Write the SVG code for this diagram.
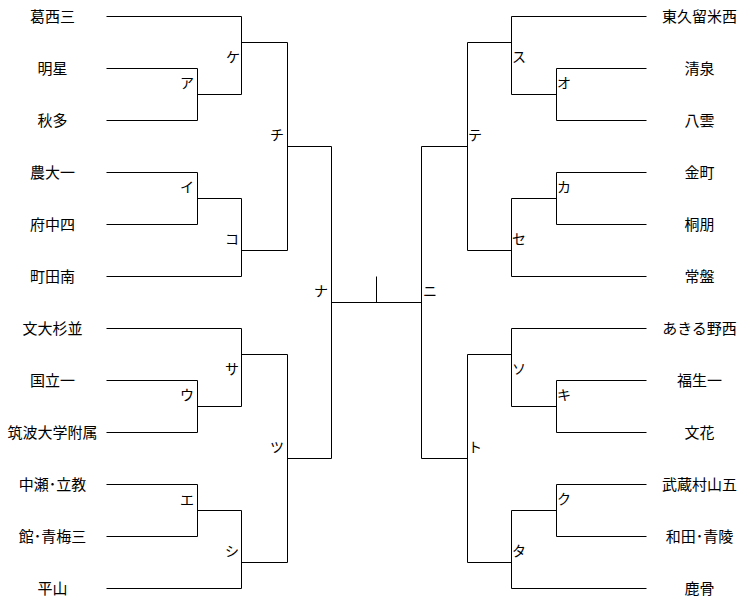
<svg xmlns="http://www.w3.org/2000/svg" width="750" height="604" viewBox="0 0 750 604">
<style>
.t{font-family:"Noto Sans CJK JP","Noto Sans CJK SC",sans-serif;font-size:15px;fill:#000;text-anchor:middle}
.l{font-family:"Noto Sans CJK JP","Noto Sans CJK SC",sans-serif;font-size:14px;fill:#000}
.le{text-anchor:end}
.ls{text-anchor:start}
.c path{fill:none;stroke:#000;stroke-width:1}
</style>
<rect width="750" height="604" fill="#fff"/>
<g class="c" id="connectors" transform="translate(0.5,0.5)">
<path d="M106,16H241M106,68H197M106,120H197M106,172H197M106,224H197M106,276H241M106,328H241M106,380H197M106,432H197M106,484H197M106,536H197M106,588H241"/>
<path d="M511,16H646M556,68H646M556,120H646M556,172H646M556,224H646M511,276H646M511,328H646M556,380H646M556,432H646M556,484H646M556,536H646M511,588H646"/>
<path d="M197,68V120M197,94H241M241,16V94M241,42H287M197,172V224M197,198H241M241,198V276M241,250H287M287,42V250M287,146H331"/>
<path d="M197,380V432M197,406H241M241,328V406M241,354H287M197,484V536M197,510H241M241,510V588M241,562H287M287,354V562M287,458H331"/>
<path d="M331,146V458M331,302H421M376,276V302M421,146V458"/>
<path d="M467,42V250M467,146H421M511,16V94M511,42H467M556,68V120M556,94H511M556,172V224M556,198H511M511,198V276M511,250H467"/>
<path d="M467,354V562M467,458H421M511,328V406M511,354H467M556,380V432M556,406H511M556,484V536M556,510H511M511,510V588M511,562H467"/>
</g>
<g id="team-l1"><text class="t" x="52.5" y="22">葛西三</text></g>
<g id="team-l2"><text class="t" x="52.5" y="74">明星</text></g>
<g id="team-l3"><text class="t" x="52.5" y="126">秋多</text></g>
<g id="team-l4"><text class="t" x="52.5" y="178">農大一</text></g>
<g id="team-l5"><text class="t" x="52.5" y="230">府中四</text></g>
<g id="team-l6"><text class="t" x="52.5" y="282">町田南</text></g>
<g id="team-l7"><text class="t" x="52.5" y="334">文大杉並</text></g>
<g id="team-l8"><text class="t" x="52.5" y="386">国立一</text></g>
<g id="team-l9"><text class="t" x="52.5" y="438">筑波大学附属</text></g>
<g id="team-l10"><text class="t" x="52.5" y="490">中瀬･立教</text></g>
<g id="team-l11"><text class="t" x="52.5" y="542">館･青梅三</text></g>
<g id="team-l12"><text class="t" x="52.5" y="594">平山</text></g>
<g id="team-r1"><text class="t" x="699.5" y="22">東久留米西</text></g>
<g id="team-r2"><text class="t" x="699.5" y="74">清泉</text></g>
<g id="team-r3"><text class="t" x="699.5" y="126">八雲</text></g>
<g id="team-r4"><text class="t" x="699.5" y="178">金町</text></g>
<g id="team-r5"><text class="t" x="699.5" y="230">桐朋</text></g>
<g id="team-r6"><text class="t" x="699.5" y="282">常盤</text></g>
<g id="team-r7"><text class="t" x="699.5" y="334">あきる野西</text></g>
<g id="team-r8"><text class="t" x="699.5" y="386">福生一</text></g>
<g id="team-r9"><text class="t" x="699.5" y="438">文花</text></g>
<g id="team-r10"><text class="t" x="699.5" y="490">武蔵村山五</text></g>
<g id="team-r11"><text class="t" x="699.5" y="542">和田･青陵</text></g>
<g id="team-r12"><text class="t" x="699.5" y="594">鹿骨</text></g>
<g id="m-a"><text class="l le" x="194" y="88">ア</text></g>
<g id="m-ke"><text class="l le" x="240" y="62">ケ</text></g>
<g id="m-i"><text class="l le" x="194" y="192">イ</text></g>
<g id="m-ko"><text class="l le" x="239" y="244">コ</text></g>
<g id="m-chi"><text class="l le" x="284" y="140">チ</text></g>
<g id="m-u"><text class="l le" x="194" y="400">ウ</text></g>
<g id="m-sa"><text class="l le" x="239" y="374">サ</text></g>
<g id="m-e"><text class="l le" x="194" y="505">エ</text></g>
<g id="m-shi"><text class="l le" x="239" y="556">シ</text></g>
<g id="m-tsu"><text class="l le" x="284" y="452">ツ</text></g>
<g id="m-na"><text class="l le" x="328" y="296">ナ</text></g>
<g id="m-ni"><text class="l ls" x="423" y="296">ニ</text></g>
<g id="m-te"><text class="l ls" x="468" y="140">テ</text></g>
<g id="m-su"><text class="l ls" x="512" y="62">ス</text></g>
<g id="m-o"><text class="l ls" x="557" y="88">オ</text></g>
<g id="m-ka"><text class="l ls" x="557" y="192">カ</text></g>
<g id="m-se"><text class="l ls" x="512" y="244">セ</text></g>
<g id="m-to"><text class="l ls" x="468" y="452">ト</text></g>
<g id="m-so"><text class="l ls" x="512" y="374">ソ</text></g>
<g id="m-ki"><text class="l ls" x="557" y="400">キ</text></g>
<g id="m-ku"><text class="l ls" x="557" y="504">ク</text></g>
<g id="m-ta"><text class="l ls" x="512" y="556">タ</text></g>
</svg>
